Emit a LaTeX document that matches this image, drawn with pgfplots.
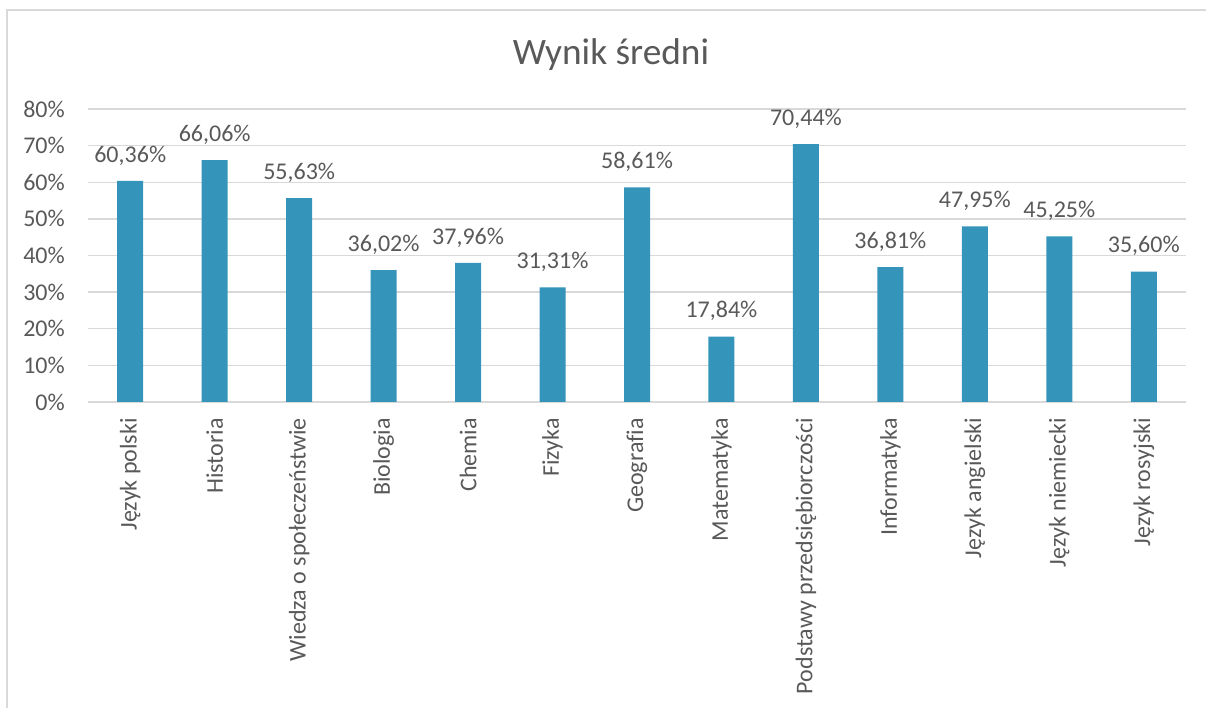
\documentclass[border=0pt]{standalone}
\usepackage{fontspec}
\setmainfont{Carlito}[Ligatures=NoCommon]
\usepackage{pgfplots}
\pgfplotsset{compat=1.18}
\definecolor{barc}{HTML}{3494BA}
\definecolor{gridc}{HTML}{D9D9D9}
\definecolor{txt}{HTML}{595959}
\begin{document}
\begin{tikzpicture}[x=1bp,y=1bp]
\draw[gridc, line width=1.5bp] (7,-20) rectangle (1212,698);
\node[anchor=base, text=txt, font=\fontsize{37.3bp}{44bp}\selectfont, inner sep=0pt] at (611,643) {Wynik średni};
\begin{axis}[
  at={(88bp,306bp)}, anchor=south west,
  scale only axis, width=1098bp, height=293bp,
  xmin=-0.5, xmax=12.5, ymin=0, ymax=80,
  ytick={0,10,...,80},
  yticklabels={0\%,10\%,20\%,30\%,40\%,50\%,60\%,70\%,80\%},
  xtick={0,...,12},
  xticklabels={Język polski,Historia,Wiedza o społeczeństwie,Biologia,Chemia,Fizyka,Geografia,Matematyka,Podstawy przedsiębiorczości,Informatyka,Język angielski,Język niemiecki,Język rosyjski},
  ymajorgrids,
  grid style={gridc, line width=1.3bp},
  axis line style={draw=none},
  major tick length=0pt,
  tick style={draw=none},
  yticklabel style={anchor=east, inner sep=0pt, text=txt, font=\fontsize{24bp}{28bp}\selectfont},
  yticklabel shift=23bp,
  xticklabel style={rotate=90, anchor=east, inner sep=0pt, text=txt, font=\fontsize{24bp}{28bp}\selectfont},
  xticklabel shift=16bp,
  clip=false,
]
\addplot[ybar, bar width=26bp, fill=barc, draw=none,
  nodes near coords={\pgfmathprintnumber[assume math mode=true,fixed,fixed zerofill,precision=2,use comma]{\pgfplotspointmeta}\%},
  every node near coord/.append style={anchor=base, inner sep=0pt, yshift=18.7bp, text=txt, font=\fontsize{24bp}{28bp}\selectfont},
] table {
x y
0 60.36
1 66.06
2 55.63
3 36.02
4 37.96
5 31.31
6 58.61
7 17.84
8 70.44
9 36.81
10 47.95
11 45.25
12 35.60
};
\end{axis}
\pgfresetboundingbox
\path[use as bounding box] (0,0) rectangle (1206,708);
\end{tikzpicture}
\end{document}
